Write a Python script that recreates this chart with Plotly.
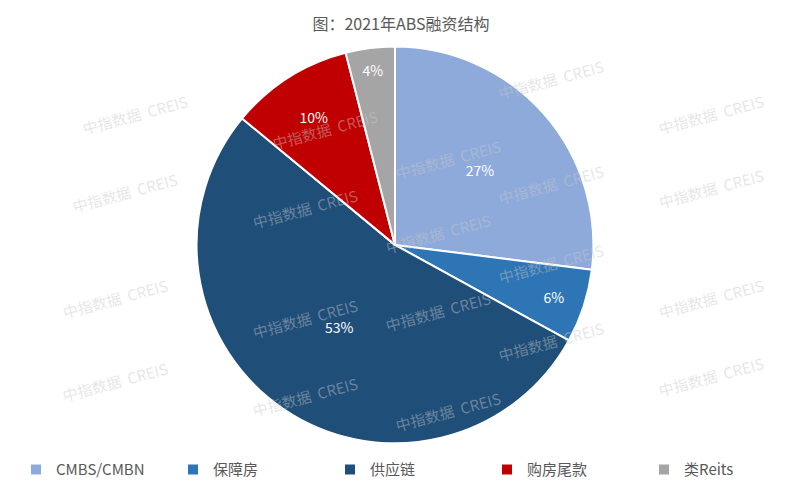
import plotly.graph_objects as go

labels = ["CMBS/CMBN", "保障房", "供应链", "购房尾款", "类Reits"]
values = [27, 6, 53, 10, 4]
colors = ["#8eaadb", "#2e75b6", "#1f4e79", "#c00000", "#a5a5a5"]

fig = go.Figure(go.Pie(
    labels=labels, values=values, sort=False, direction="clockwise", rotation=0,
    marker=dict(colors=colors, line=dict(color="white", width=2)),
    texttemplate="%{percent:.0%}", textposition="inside",
    insidetextfont=dict(color="white", size=14, family="Noto Sans CJK SC"),
    domain=dict(x=[0.21, 0.755], y=[0.095, 0.92]),
))

# watermarks
marks = [(70, 80), (260, 95), (440, 125), (600, 45), (760, 80), (60, 185), (240, 200),
         (430, 225), (600, 150), (760, 180), (50, 290), (240, 310), (430, 330),
         (600, 255), (760, 290), (50, 400), (240, 415), (440, 430), (600, 360), (760, 395)]
for x, y in marks:
    fig.add_annotation(x=x / 802, y=1 - y / 481, xref="paper", yref="paper",
                       text="中指数据  CREIS", showarrow=False, textangle=-15,
                       font=dict(size=15, color="rgba(200,200,200,0.45)", family="Noto Sans CJK SC"))

fig.update_layout(
    width=802, height=481, paper_bgcolor="white",
    margin=dict(l=0, r=0, t=0, b=0),
    title=dict(text="图：2021年ABS融资结构", x=0.49, y=0.965, xanchor="center", yanchor="middle",
               font=dict(size=16, color="#595959", family="Noto Sans CJK SC")),
    legend=dict(orientation="h", x=0.01, y=0.04, xanchor="left", yanchor="middle",
                entrywidth=112, itemwidth=30,
                font=dict(size=15, color="#595959", family="Noto Sans CJK SC")),
    font=dict(family="Noto Sans CJK SC"),
)
fig.write_html("out.html")
